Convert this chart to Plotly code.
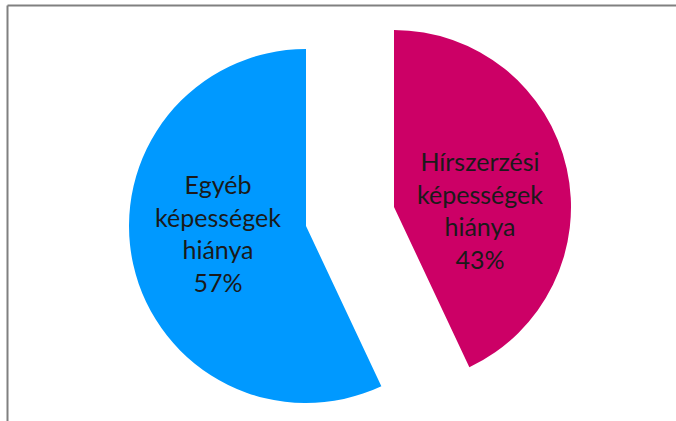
import plotly.graph_objects as go

labels = ["Hírszerzési képességek hiánya", "Egyéb képességek hiánya"]
values = [43, 57]
slice_text = ["Hírszerzési<br>képességek<br>hiánya<br>43%", "Egyéb<br>képességek<br>hiánya<br>57%"]
colors = ["#CC0066", "#0099FF"]

W, H = 676, 421
R = 177

def dom(cx, cy):
    # cx, cy in pixels from top-left
    return dict(x=[(cx - R) / W, (cx + R) / W],
                y=[(H - cy - R) / H, (H - cy + R) / H])

fig = go.Figure()
# blue slice (unexploded)
fig.add_trace(go.Pie(
    labels=labels, values=values, sort=False, direction="clockwise", rotation=0,
    marker=dict(colors=["rgba(0,0,0,0)", colors[1]], line=dict(width=0)),
    textinfo="none",
    domain=dom(306, 226), showlegend=False, hoverinfo="skip",
))
# magenta slice (exploded)
fig.add_trace(go.Pie(
    labels=labels, values=values, sort=False, direction="clockwise", rotation=0,
    marker=dict(colors=[colors[0], "rgba(0,0,0,0)"], line=dict(width=0)),
    textinfo="none",
    domain=dom(394, 207), showlegend=False, hoverinfo="skip",
))

label_pos = [(480, 210), (218, 233)]  # pixel centres of the slice labels
annotations = [
    dict(text=t, x=px / W, y=1 - py / H, xref="paper", yref="paper",
         xanchor="center", yanchor="middle", showarrow=False,
         font=dict(family="Lato", size=25, color="#1a1a1a"))
    for t, (px, py) in zip(slice_text, label_pos)
]

fig.update_layout(
    width=W, height=H, margin=dict(l=0, r=0, t=0, b=0),
    paper_bgcolor="white", plot_bgcolor="white",
    annotations=annotations,
    shapes=[
        dict(type="line", xref="paper", yref="paper",
             x0=7.5 / W, x1=1.01, y0=1 - 5.5 / H, y1=1 - 5.5 / H,
             line=dict(color="#808080", width=2)),
        dict(type="line", xref="paper", yref="paper",
             x0=7.5 / W, x1=7.5 / W, y0=-0.01, y1=1 - 5.5 / H,
             line=dict(color="#808080", width=2)),
    ],
)

fig.write_html("out.html", config={"displayModeBar": False},
               post_script="document.body.style.margin='0';document.body.style.overflow='hidden';")
